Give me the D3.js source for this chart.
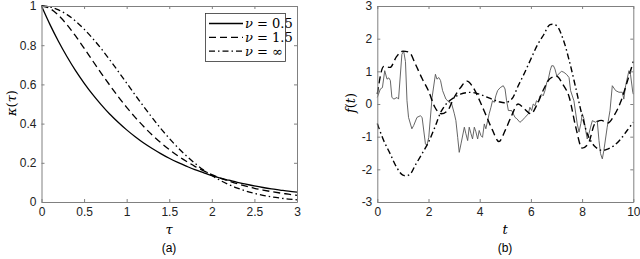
<!DOCTYPE html>
<html><head><meta charset="utf-8">
<script src="https://cdn.jsdelivr.net/npm/d3@7"></script>
<style>body{margin:0;background:#fff} svg{display:block}</style>
</head><body><svg id="c" width="640" height="259"></svg>
<script>
// ---- Panel (a) data ----
const tau = [0,0.1,0.2,0.3,0.4,0.5,0.6,0.7,0.8,0.9,1.0,1.1,1.2,1.3,1.4,1.5,1.6,1.7,1.8,1.9,2.0,2.1,2.2,2.3,2.4,2.5,2.6,2.7,2.8,2.9,3.0];
const kappaNu05 = [1,0.905,0.819,0.741,0.670,0.607,0.549,0.497,0.449,0.407,0.368,0.333,0.301,0.273,0.247,0.223,0.202,0.183,0.165,0.150,0.135,0.122,0.111,0.100,0.091,0.082,0.074,0.067,0.061,0.055,0.050];
const kappaNu15 = [1,0.987,0.952,0.904,0.847,0.785,0.721,0.658,0.597,0.538,0.483,0.432,0.385,0.342,0.303,0.268,0.236,0.208,0.182,0.160,0.140,0.122,0.107,0.093,0.081,0.070,0.061,0.053,0.046,0.040,0.034];
const kappaNuInf = [1,0.995,0.980,0.956,0.923,0.882,0.835,0.783,0.726,0.667,0.607,0.546,0.487,0.430,0.375,0.325,0.278,0.236,0.198,0.164,0.135,0.110,0.089,0.071,0.056,0.044,0.034,0.026,0.020,0.015,0.011];
const tauTicks = [0,0.5,1,1.5,2,2.5,3];
const kappaTicks = [0,0.2,0.4,0.6,0.8,1];
const legendLabels = ["0.5","1.5","\u221E"];

// ---- Panel (b) data ----
const tGrid = [0,0.25,0.5,0.75,1,1.25,1.5,1.75,2,2.25,2.5,2.75,3,3.25,3.5,3.75,4,4.25,4.5,4.75,5,5.25,5.5,5.75,6,6.25,6.5,6.75,7,7.25,7.5,7.75,8,8.25,8.5,8.75,9,9.25,9.5,9.75,10];
const fNuInf = [-0.6,-1.12,-1.52,-1.93,-2.18,-2.17,-1.85,-1.52,-1.17,-0.71,-0.22,0.05,0.2,0.3,0.35,0.35,0.3,0.22,0.14,0.07,0.04,0.15,0.55,0.95,1.38,1.8,2.12,2.43,2.4,2.0,1.32,0.5,-0.35,-1.0,-1.3,-1.42,-1.38,-1.27,-1.08,-0.82,-0.56];
const fNu15 = [0.3,1.15,1.12,1.45,1.62,1.58,1.2,0.78,0.4,-0.1,-0.3,-0.2,0.2,0.5,0.7,0.5,0.1,-0.35,-0.8,-1.15,-0.8,-0.35,0.0,-0.15,-0.3,0.0,0.45,0.78,0.85,0.6,0.2,-0.7,-1.35,-1.2,-0.6,-0.5,-0.58,-0.35,0.05,0.65,1.3];
const tRough = [0,0.12,0.2,0.29,0.38,0.45,0.51,0.57,0.65,0.77,0.83,0.96,1.03,1.1,1.16,1.22,1.35,1.42,1.55,1.68,1.75,1.88,1.94,2.01,2.14,2.27,2.33,2.4,2.47,2.55,2.68,2.81,2.9,3.01,3.07,3.14,3.2,3.27,3.4,3.46,3.53,3.59,3.66,3.72,3.79,3.85,3.92,3.98,4.05,4.11,4.18,4.24,4.31,4.37,4.44,4.5,4.57,4.63,4.7,4.8,4.92,4.99,5.05,5.12,5.25,5.38,5.45,5.57,5.64,5.77,5.9,5.96,6.03,6.09,6.16,6.22,6.29,6.35,6.42,6.48,6.55,6.62,6.68,6.75,6.81,6.88,6.94,7.01,7.14,7.2,7.29,7.4,7.49,7.55,7.68,7.81,7.88,7.95,8.01,8.07,8.14,8.2,8.27,8.33,8.4,8.53,8.59,8.66,8.72,8.79,8.85,8.98,9.09,9.18,9.31,9.44,9.57,9.63,9.7,9.83,9.89,9.98,10];
const fNu05 = [0.2,0.46,0.5,1.02,0.76,0.8,0.72,0.2,0.15,0.2,0.15,1.52,1.62,1.3,0.1,-0.41,-0.76,-0.66,-0.41,-0.36,-0.41,-1.22,-1.27,-1.02,0.2,0.91,0.76,0.81,0.72,0.41,0.15,0.05,0.02,-0.3,-0.51,-1.02,-1.48,-1.22,-0.71,-0.91,-1.12,-0.71,-0.91,-1.07,-0.71,-0.85,-1.07,-0.81,-0.97,-1.02,-0.61,-0.76,-0.51,-0.3,-0.1,0.1,0.05,0.25,0.41,0.5,0.56,0.46,0.1,-0.2,-0.2,-0.41,-0.45,-0.56,-0.52,-0.41,-0.3,-0.1,-0.2,0.0,-0.05,0.1,0.05,0.25,0.3,0.25,0.41,0.66,0.76,1.02,1.17,1.17,1.07,0.86,0.96,1.0,0.97,0.9,0.81,0.41,0.1,-0.61,-0.86,-0.6,-0.3,-0.45,-0.81,-1.07,-0.9,-0.71,-0.51,-0.56,-0.51,-1.12,-1.52,-1.68,-1.42,-0.71,-0.2,0.56,0.41,0.36,0.36,0.15,0.56,1.02,0.91,0.36,0.3];
const tTicks = [0,2,4,6,8,10];
const fTicks = [-3,-2,-1,0,1,2,3];

const svg = d3.select("#c");
const boxColor = "#808080";
const tickFont = "Liberation Sans, Arial, sans-serif";
const mathFont = "DejaVu Serif, Liberation Serif, serif";
const DASH = "7,4";
const DASHDOT = "6,3,1.5,3";

function frame(x, y, xt, yt, xfmt, yfmt) {
  const [x0, x1] = x.range(), [y0, y1] = y.range();
  const g = svg.append("g");
  const ax = [
    [d3.axisBottom(x).tickValues(xt).tickFormat(xfmt), `translate(0,${y0})`],
    [d3.axisTop(x).tickValues(xt).tickFormat(""), `translate(0,${y1})`],
    [d3.axisLeft(y).tickValues(yt).tickFormat(yfmt), `translate(${x0},0)`],
    [d3.axisRight(y).tickValues(yt).tickFormat(""), `translate(${x1},0)`]
  ];
  ax.forEach(([a, tr]) => {
    const s = g.append("g").attr("transform", tr)
      .call(a.tickSizeInner(-3).tickSizeOuter(0).tickPadding(5));
    s.select(".domain").attr("stroke", boxColor);
    s.selectAll(".tick line").attr("stroke", boxColor);
    s.selectAll("text").attr("fill", "#222").style("font-family", tickFont).style("font-size", "12px");
  });
  return g;
}

// ---- Panel (a) ----
const xa = d3.scaleLinear().domain([0, 3]).range([41.5, 297]);
const ya = d3.scaleLinear().domain([0, 1]).range([202, 6]);
const lineA = ys => d3.line().x((d, i) => xa(tau[i])).y((d) => ya(d)).curve(d3.curveMonotoneX)(ys);
const seriesA = [[kappaNu05, null], [kappaNu15, DASH], [kappaNuInf, DASHDOT]];
seriesA.forEach(([ys, dash]) => {
  svg.append("path").attr("d", lineA(ys)).attr("fill", "none").attr("stroke", "#000")
    .attr("stroke-width", 1.3).attr("stroke-dasharray", dash);
});
frame(xa, ya, tauTicks, kappaTicks, d => String(d), d => String(d));

// legend
const lg = svg.append("g");
lg.append("rect").attr("x", 205.5).attr("y", 13.5).attr("width", 80).attr("height", 48)
  .attr("fill", "#fff").attr("stroke", "#333").attr("stroke-width", 0.8);
legendLabels.forEach((lab, i) => {
  const yy = 23.5 + i * 13.8;
  lg.append("line").attr("x1", 209).attr("x2", 243).attr("y1", yy).attr("y2", yy)
    .attr("stroke", "#000").attr("stroke-width", 1.3).attr("stroke-dasharray", seriesA[i][1]);
  const t = lg.append("text").attr("x", 245).attr("y", yy + 4.5)
    .style("font-family", mathFont).style("font-size", "13px").attr("fill", "#000");
  t.append("tspan").attr("font-style", "italic").text("\u03BD");
  t.append("tspan").text(" = " + lab);
});

// axis labels (a)
svg.append("text").attr("x", 169).attr("y", 234).attr("text-anchor", "middle")
  .style("font-family", mathFont).style("font-style", "italic").style("font-size", "13px").text("\u03C4");
{
  const t = svg.append("text").attr("transform", "translate(16,103) rotate(-90)").attr("text-anchor", "middle")
    .style("font-family", mathFont).style("font-size", "13px");
  t.append("tspan").attr("font-style", "italic").text("\u03BA");
  t.append("tspan").text("(");
  t.append("tspan").attr("font-style", "italic").text("\u03C4");
  t.append("tspan").text(")");
}
svg.append("text").attr("x", 169).attr("y", 252).attr("text-anchor", "middle")
  .style("font-family", tickFont).style("font-size", "12px").text("(a)");

// ---- Panel (b) ----
const xb = d3.scaleLinear().domain([0, 10]).range([377.3, 633.3]);
const yb = d3.scaleLinear().domain([-3, 3]).range([202, 6]);
const lineB = (ts, ys, curve) => d3.line().x((d, i) => xb(ts[i])).y(d => yb(d)).curve(curve)(ys);
svg.append("path").attr("d", lineB(tRough, fNu05, d3.curveLinear)).attr("fill", "none")
  .attr("stroke", "#555").attr("stroke-width", 0.9);
svg.append("path").attr("d", lineB(tGrid, fNu15, d3.curveMonotoneX)).attr("fill", "none")
  .attr("stroke", "#000").attr("stroke-width", 1.4).attr("stroke-dasharray", DASH);
svg.append("path").attr("d", lineB(tGrid, fNuInf, d3.curveCatmullRom)).attr("fill", "none")
  .attr("stroke", "#000").attr("stroke-width", 1.4).attr("stroke-dasharray", DASHDOT);
frame(xb, yb, tTicks, fTicks, d => String(d), d => (d < 0 ? "-" + Math.abs(d) : String(d)));

svg.append("text").attr("x", 505).attr("y", 234).attr("text-anchor", "middle")
  .style("font-family", mathFont).style("font-style", "italic").style("font-size", "13px").text("t");
{
  const t = svg.append("text").attr("transform", "translate(355,103) rotate(-90)").attr("text-anchor", "middle")
    .style("font-family", mathFont).style("font-size", "13px");
  t.append("tspan").attr("font-style", "italic").text("f");
  t.append("tspan").text("(");
  t.append("tspan").attr("font-style", "italic").text("t");
  t.append("tspan").text(")");
}
svg.append("text").attr("x", 505).attr("y", 252).attr("text-anchor", "middle")
  .style("font-family", tickFont).style("font-size", "12px").text("(b)");
</script></body></html>
